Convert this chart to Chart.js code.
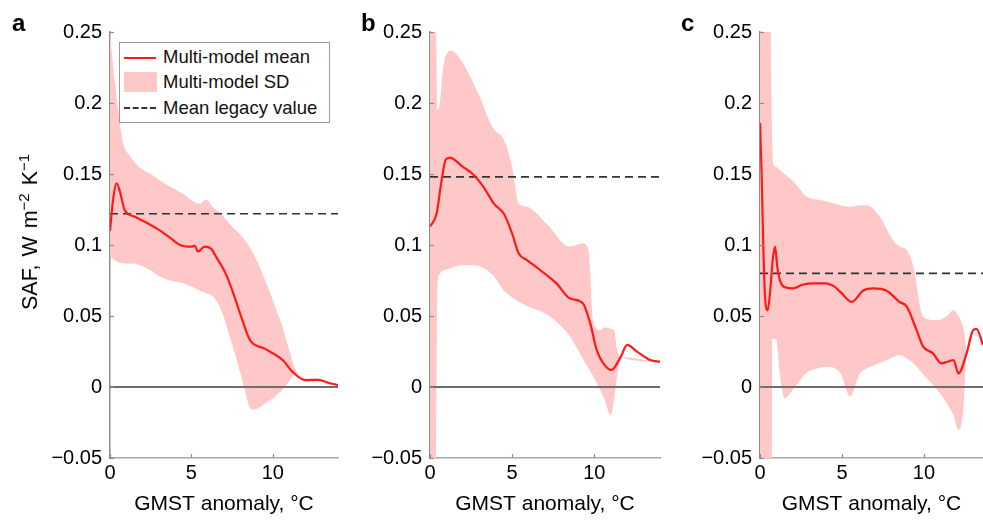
<!DOCTYPE html>
<html>
<head>
<meta charset="utf-8">
<script src="https://cdn.jsdelivr.net/npm/chart.js@4.4.1/dist/chart.umd.min.js"></script>
<style>
  html, body { margin: 0; padding: 0; background: #fff; }
  #wrap { position: relative; width: 983px; height: 520px; overflow: hidden; font-family: "Liberation Sans", Arial, sans-serif; }
  canvas { position: absolute; top: 0; }
  .plabel { position: absolute; font-weight: bold; font-size: 24px; line-height: 24px; color: #000; }
  #legend { position: absolute; left: 119px; top: 42px; width: 209px; height: 79px; border: 1px solid #9a9a9a; background: #fff; }
  #legend .txt { position: absolute; left: 43px; font-size: 18.5px; line-height: 20px; color: #111; white-space: nowrap; }
  #legend .ln { position: absolute; left: 4px; width: 32px; height: 0; }
  #ytitle { position: absolute; left: 30px; top: 232px; transform: translate(-50%, -50%) rotate(-90deg);
            font-size: 21.5px; line-height: 24px; white-space: nowrap; color: #000; word-spacing: 2px; }
  #ytitle sup { font-size: 15px; vertical-align: 8px; line-height: 0; }
</style>
</head>
<body>
<div id="wrap">
  <canvas id="ca" width="345" height="520" style="left:0px"></canvas>
  <canvas id="cb" width="320" height="520" style="left:345px"></canvas>
  <canvas id="cc" width="318" height="520" style="left:665px"></canvas>
  <div class="plabel" style="left:12px; top:11px;">a</div>
  <div class="plabel" style="left:361px; top:11px;">b</div>
  <div class="plabel" style="left:681px; top:11px;">c</div>
  <div id="ytitle">SAF, W m<sup>&minus;2</sup> K<sup>&minus;1</sup></div>
  <div id="legend">
    <div class="ln" style="top:14px; border-top:2px solid #ff1a1a;"></div>
    <div class="txt" style="top:4px;">Multi-model mean</div>
    <div style="position:absolute; left:4px; top:29px; width:33px; height:20px; background:#ffc8c8;"></div>
    <div class="txt" style="top:29px;">Multi-model SD</div>
    <div class="ln" style="top:64px; border-top:2px dashed #333;"></div>
    <div class="txt" style="top:55px;">Mean legacy value</div>
  </div>
</div>
<script>
// ---------------- data ----------------
const xTicks = [0, 5, 10];
const yTicks = [-0.05, 0, 0.05, 0.1, 0.15, 0.2, 0.25];
const yTickLabels = ['\u22120.05', '0', '0.05', '0.1', '0.15', '0.2', '0.25'];

// Panel a
const aMeanX = [0, 0.2, 0.4, 0.6, 0.9, 1.5, 2.2, 3.0, 3.7, 4.3, 5.0, 5.2, 5.4, 5.8, 6.2, 6.5, 7.1, 7.6, 8.1, 8.6, 9.5, 10.6, 11.2, 12.0, 12.8, 13.4, 14.0];
const aMeanY = [0.110, 0.133, 0.1435, 0.138, 0.1246, 0.120, 0.116, 0.1106, 0.105, 0.100, 0.0988, 0.0995, 0.0953, 0.0988, 0.0975, 0.092, 0.080, 0.065, 0.048, 0.033, 0.027, 0.019, 0.0108, 0.0049, 0.005, 0.003, 0.0014];
const aBandX =     [0, 0.2, 0.5, 0.8, 1.2, 1.8, 2.5, 3.0, 3.7, 4.5, 5.5, 5.9, 6.3, 6.8, 7.5, 8.1, 8.7, 9.1, 9.6, 10.1, 10.6, 11.0, 11.4, 12.0, 14.0];
const aBandUpper = [0.25, 0.225, 0.195, 0.172, 0.163, 0.155, 0.150, 0.146, 0.141, 0.136, 0.129, 0.132, 0.127, 0.122, 0.113, 0.106, 0.096, 0.087, 0.073, 0.058, 0.042, 0.026, 0.012, 0.0049, 0.0014];
const aBandLower = [0.092, 0.090, 0.088, 0.087, 0.087, 0.086, 0.082, 0.078, 0.075, 0.073, 0.068, 0.066, 0.064, 0.055, 0.030, 0.006, -0.016, -0.015, -0.011, -0.007, -0.002, 0.004, 0.009, 0.0049, 0.0014];
const aLegacy = 0.122;

// Panel b
const bMeanX = [0, 0.4, 0.7, 0.95, 1.2, 2.0, 2.6, 3.25, 3.9, 4.5, 5.0, 5.4, 5.9, 6.7, 7.7, 8.5, 9.3, 9.75, 10.15, 10.55, 11.05, 11.6, 12.0, 12.6, 13.4, 14.0];
const bMeanY = [0.113, 0.122, 0.145, 0.160, 0.1615, 0.155, 0.150, 0.141, 0.129, 0.122, 0.108, 0.094, 0.0894, 0.0824, 0.073, 0.0625, 0.059, 0.045, 0.026, 0.0167, 0.012, 0.021, 0.0296, 0.0249, 0.019, 0.0178];
const bBandX =     [0, 0.35, 0.45, 0.6, 0.8, 1.1, 1.3, 2.0, 3.0, 3.8, 4.5, 5.0, 5.4, 5.9, 7.1, 8.5, 9.3, 9.65, 9.95, 10.4, 10.6, 11.0, 11.2, 11.4, 11.6, 14.0];
const bBandUpper = [0.26, 0.26, 0.195, 0.200, 0.225, 0.236, 0.237, 0.228, 0.205, 0.183, 0.174, 0.155, 0.129, 0.127, 0.115, 0.099, 0.101, 0.096, 0.045, 0.040, 0.042, 0.041, 0.040, 0.026, 0.021, 0.0178];
const bBandLower = [-0.06, -0.06, 0.070, 0.080, 0.082, 0.083, 0.084, 0.086, 0.085, 0.079, 0.068, 0.063, 0.060, 0.057, 0.051, 0.036, 0.020, 0.013, 0.0073, -0.003, -0.008, -0.020, -0.009, 0.008, 0.021, 0.0178];
const bLegacy = 0.148;

// Panel c
const cMeanX = [0, 0.1, 0.2, 0.3, 0.47, 0.6, 0.8, 0.92, 1.05, 1.25, 1.6, 2.0, 2.6, 3.25, 4.0, 4.5, 4.9, 5.6, 6.3, 6.9, 7.7, 8.5, 8.95, 9.55, 9.95, 10.55, 11.05, 11.5, 11.8, 12.1, 12.6, 13.0, 13.2, 13.6];
const cMeanY = [0.186, 0.15, 0.10, 0.065, 0.054, 0.065, 0.092, 0.0988, 0.085, 0.074, 0.070, 0.0695, 0.072, 0.073, 0.073, 0.071, 0.067, 0.060, 0.068, 0.0695, 0.068, 0.060, 0.0566, 0.040, 0.0284, 0.0237, 0.0167, 0.018, 0.019, 0.0096, 0.0237, 0.040, 0.041, 0.0296];
const cBandX =     [0, 0.6, 0.7, 0.75, 0.8, 1.0, 1.2, 1.5, 2.0, 2.85, 3.5, 4.1, 4.9, 5.5, 6.1, 6.5, 7.3, 8.1, 8.5, 8.95, 9.35, 9.95, 10.8, 11.4, 11.8, 12.1, 12.4, 12.5, 12.6, 13.0, 13.2, 13.6];
const cBandUpper = [0.30, 0.30, 0.20, 0.17, 0.158, 0.155, 0.153, 0.150, 0.145, 0.134, 0.132, 0.1305, 0.128, 0.127, 0.128, 0.128, 0.120, 0.1035, 0.099, 0.0965, 0.0847, 0.0495, 0.047, 0.050, 0.054, 0.050, 0.042, 0.036, 0.0237, 0.040, 0.041, 0.0296];
const cBandLower = [-0.10, -0.10, -0.10, 0.035, 0.034, 0.033, 0.010, -0.008, -0.002, 0.010, 0.013, 0.0143, 0.0096, -0.0068, 0.0096, 0.013, 0.0167, 0.021, 0.0225, 0.020, 0.0167, 0.009, -0.002, -0.0115, -0.020, -0.030, -0.016, 0.005, 0.0237, 0.040, 0.041, 0.0296];
const cLegacy = 0.080;

// ---------------- drawing ----------------
const FONT = '"Liberation Sans", Arial, sans-serif';
const PINK = '#ffc8c8';

const inwardTicks = {
  id: 'inwardTicks',
  afterDatasetsDraw(chart) {
    const { ctx, chartArea, scales } = chart;
    ctx.save();
    ctx.strokeStyle = '#8c8c8c';
    ctx.lineWidth = 1.2;
    scales.y.ticks.forEach(t => {
      const py = Math.round(scales.y.getPixelForValue(t.value)) + 0.5;
      ctx.beginPath(); ctx.moveTo(chartArea.left, py); ctx.lineTo(chartArea.left + 4, py); ctx.stroke();
    });
    scales.x.ticks.forEach(t => {
      const px = Math.round(scales.x.getPixelForValue(t.value)) + 0.5;
      ctx.beginPath(); ctx.moveTo(px, chartArea.bottom); ctx.lineTo(px, chartArea.bottom - 4); ctx.stroke();
    });
    ctx.restore();
  }
};

const pts = (xs, ys) => xs.map((x, i) => ({ x: x, y: ys[i] }));

function makePanel(id, p) {
  new Chart(document.getElementById(id), {
    type: 'line',
    data: {
      datasets: [
        { data: pts(p.meanX, p.meanY), borderColor: '#ff1a1a', borderWidth: 2.2, pointRadius: 0,
          cubicInterpolationMode: 'monotone', fill: false },
        { data: [{ x: p.xMin, y: p.legacy }, { x: p.xMax, y: p.legacy }], borderColor: '#333',
          borderWidth: 1.6, borderDash: [8, 5], pointRadius: 0, fill: false },
        { data: [{ x: p.xMin, y: 0 }, { x: p.xMax, y: 0 }], borderColor: '#6e6e6e',
          borderWidth: 1.8, pointRadius: 0, fill: false },
        { data: pts(p.bandX, p.upper), borderColor: 'rgba(0,0,0,0)', borderWidth: 0, pointRadius: 0,
          backgroundColor: PINK, fill: '+1', cubicInterpolationMode: 'monotone' },
        { data: pts(p.bandX, p.lower), borderColor: 'rgba(0,0,0,0)', borderWidth: 0, pointRadius: 0,
          fill: false, cubicInterpolationMode: 'monotone' }
      ]
    },
    options: {
      responsive: false,
      animation: false,
      devicePixelRatio: 1,
      layout: { padding: { top: 32, right: p.padRight, left: 0, bottom: 0 } },
      plugins: { legend: { display: false }, tooltip: { enabled: false } },
      scales: {
        x: {
          type: 'linear', min: p.xMin, max: p.xMax,
          afterBuildTicks: (s) => { s.ticks = xTicks.map(v => ({ value: v })); },
          afterFit: (s) => { s.height = 62; },
          ticks: { color: '#000', font: { family: FONT, size: 20 }, padding: 3,
                   callback: (v) => String(v), maxRotation: 0 },
          grid: { display: false, drawTicks: false },
          border: { display: true, color: '#a8a8a8', width: 1.5 },
          title: { display: true, text: 'GMST anomaly, \u00B0C', color: '#000',
                   font: { family: FONT, size: 21 }, padding: { top: 0, bottom: 3 } }
        },
        y: {
          type: 'linear', min: -0.05, max: 0.25,
          afterBuildTicks: (s) => { s.ticks = yTicks.map(v => ({ value: v })); },
          afterFit: (s) => { s.width = p.yWidth; },
          ticks: { color: '#000', font: { family: FONT, size: 20 }, padding: 8,
                   callback: (v) => { const i = yTicks.findIndex(t => Math.abs(t - v) < 1e-9); return i >= 0 ? yTickLabels[i] : ''; } },
          grid: { display: false, drawTicks: false },
          border: { display: true, color: '#8c8c8c', width: 1.5 },
          title: { display: false }
        }
      }
    },
    plugins: [inwardTicks]
  });
}

makePanel('ca', { meanX: aMeanX, meanY: aMeanY, bandX: aBandX, upper: aBandUpper, lower: aBandLower,
  legacy: aLegacy, xMin: 0, xMax: 14, padRight: 7, yWidth: 110 });
makePanel('cb', { meanX: bMeanX, meanY: bMeanY, bandX: bBandX, upper: bBandUpper, lower: bBandLower,
  legacy: bLegacy, xMin: 0, xMax: 14, padRight: 5, yWidth: 85 });
makePanel('cc', { meanX: cMeanX, meanY: cMeanY, bandX: cBandX, upper: cBandUpper, lower: cBandLower,
  legacy: cLegacy, xMin: 0, xMax: 13.6, padRight: 0, yWidth: 95 });
</script>
</body>
</html>
